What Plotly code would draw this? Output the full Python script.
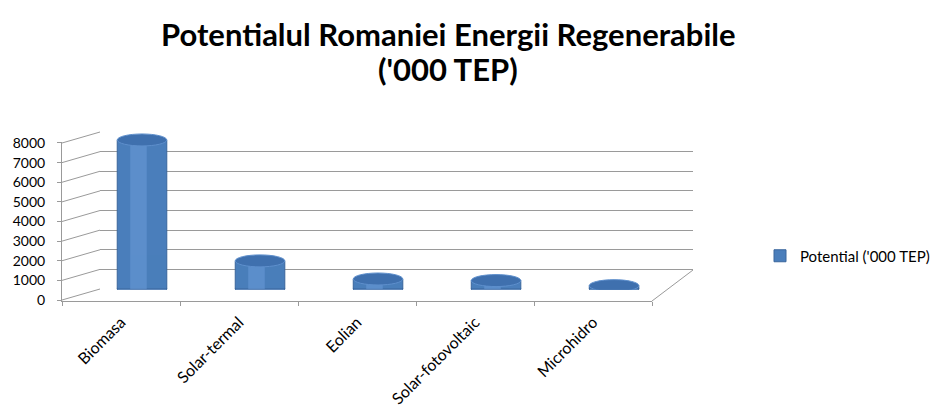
import plotly.graph_objects as go

# ---- data ----
categories = ["Biomasa", "Solar-termal", "Eolian", "Solar-fotovoltaic", "Microhidro"]
potential = [7594, 1433, 510, 430, 170]
series_name = "Potential ('000 TEP)"
y_ticks = [0, 1000, 2000, 3000, 4000, 5000, 6000, 7000, 8000]
title_lines = ["Potentialul Romaniei Energii Regenerabile", "('000 TEP)"]

# the page body has an 8px margin, so the figure is 932x400 placed at (8, 8)
OFF = 8
W, H = 940 - OFF, 408 - OFF


def px(x):
    return (x - OFF) / W


def py(y):
    return 1 - (y - OFF) / H


FONT = "Lato"
GRID = "#9a9a9a"
BODY = "#4A7EBB"
LIGHT = "#6B9BD9"
TOP = "#3F70AE"


def y_back(v):
    return 289 - v * 157 / 8000


def y_front(v):
    return 300 - v * 157 / 8000


fig = go.Figure()

fig.add_trace(go.Bar(
    x=categories, y=potential, xaxis="x2", yaxis="y",
    marker=dict(color=BODY, line=dict(color="#3A669C", width=1)),
    width=0.42, name=series_name, showlegend=True, hoverinfo="x+y",
))
fig.add_trace(go.Bar(
    x=categories, y=potential, xaxis="x2", yaxis="y",
    marker=dict(color=LIGHT, line=dict(width=0)), opacity=0.55,
    width=0.14, offset=-0.1, showlegend=False, hoverinfo="skip",
))
fig.add_trace(go.Scatter(
    x=categories, y=[None] * len(categories), xaxis="x", yaxis="y3",
    mode="markers", marker=dict(opacity=0), showlegend=False, hoverinfo="skip",
))

shapes = []
ry = 6 * 8000 / 157
for i, v in enumerate(potential):
    shapes.append(dict(type="circle", xref="x2", yref="y", x0=i - 0.21, x1=i + 0.21,
                       y0=-ry, y1=ry, fillcolor=BODY, line=dict(color="#3A669C", width=1),
                       layer="between"))
    shapes.append(dict(type="circle", xref="x2", yref="y", x0=i - 0.21, x1=i + 0.21,
                       y0=v - ry, y1=v + ry, fillcolor=TOP, line=dict(color="#5E8FCC", width=1),
                       layer="above"))

for t in y_ticks:
    shapes.append(dict(type="line", xref="paper", yref="paper", x0=px(62), y0=py(y_front(t)),
                       x1=px(100), y1=py(y_back(t)), line=dict(color=GRID, width=1), layer="below"))
shapes.append(dict(type="line", xref="paper", yref="paper", x0=px(652), y0=py(301),
                   x1=px(693), y1=py(270), line=dict(color=GRID, width=1), layer="below"))

annotations = [
    dict(text="<b>%s</b>" % title_lines[0], x=px(448), y=py(34), xref="paper", yref="paper",
         showarrow=False, font=dict(family=FONT, size=31, color="#000"), xanchor="center", yanchor="middle"),
    dict(text="<b>%s</b>" % title_lines[1], x=px(448), y=py(69), xref="paper", yref="paper",
         showarrow=False, font=dict(family=FONT, size=31, color="#000"), xanchor="center", yanchor="middle"),
]

lo, hi = -40, 8040
fig.update_layout(
    width=W, height=H,
    margin=dict(l=0, r=0, t=0, b=0),
    paper_bgcolor="white", plot_bgcolor="rgba(0,0,0,0)",
    barmode="overlay",
    font=dict(family=FONT, size=15, color="#000"),
    shapes=shapes, annotations=annotations,
    showlegend=True,
    legend=dict(x=px(760), y=py(256), xanchor="left", yanchor="middle", itemwidth=30,
                font=dict(family=FONT, size=15, color="#000"), bgcolor="rgba(0,0,0,0)"),
    xaxis=dict(domain=[px(62), px(652)], range=[-0.5, 4.5], type="category", anchor="y3",
               showline=True, linecolor=GRID, ticks="outside", tickson="boundaries",
               ticklen=4, tickcolor=GRID, tickangle=-45, showgrid=False, automargin=False,
               ticklabelstandoff=5, tickfont=dict(family=FONT, size=16)),
    yaxis3=dict(domain=[py(y_front(lo)), py(y_front(hi))], range=[lo, hi], anchor="x",
                tickvals=y_ticks, showline=True, linecolor=GRID, ticks="outside", ticklen=4,
                tickcolor=GRID, showgrid=False, zeroline=False, automargin=False,
                ticklabelstandoff=9, tickfont=dict(family=FONT, size=14)),
    xaxis2=dict(domain=[px(100), px(693)], range=[-0.356, 4.669], type="category", anchor="y",
                showticklabels=False, showgrid=False, showline=False, ticks="", zeroline=False),
    yaxis=dict(domain=[py(y_back(lo)), py(y_back(hi))], range=[lo, hi], anchor="x2",
               tickvals=y_ticks[1:], showticklabels=False, showgrid=True, gridcolor=GRID,
               gridwidth=1, zeroline=False, ticks="", showline=False),
)

fig.write_html("out.html")
